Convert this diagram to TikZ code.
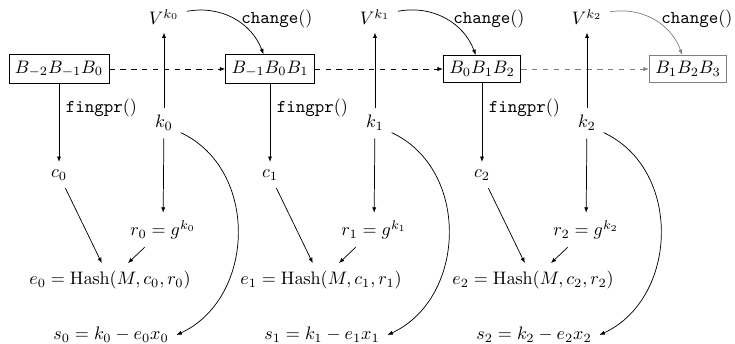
\documentclass[tikz,border=0pt]{standalone}
\usetikzlibrary{arrows.meta}
\begin{document}
\begin{tikzpicture}[x=0.553pt,y=0.553pt,
  >={Latex[length=3pt,width=2.3pt]},
  blk/.style={draw, inner sep=3.33pt},
  greyblk/.style={draw=gray, inner sep=3.33pt},
  lbl/.style={inner sep=0pt},
  mth/.style={inner sep=3.33pt, outer sep=1pt},
  conn/.style={->},
  loop/.style={->, out=-25, in=25, looseness=1.1},
  chg/.style={->, bend left=40},
  seq/.style={->, dashed}]
\useasboundingbox (0,0) rectangle (735,-343);
% blocks
\node[blk] (b0) at (59,-69) {$B_{-2}B_{-1}B_0$};
\node[blk] (b1) at (270,-69) {$B_{-1}B_0B_1$};
\node[blk] (b2) at (482,-69) {$B_0B_1B_2$};
\node[greyblk] (b3) at (688,-69) {$B_1B_2B_3$};
\draw[seq] (b0) -- (b1);
\draw[seq] (b1) -- (b2);
\draw[seq, gray] (b2) -- (b3);
\foreach \i/\X/\C in {0/59/277,1/270/489,2/482/697} {
  \node[mth] (V\i) at (\X+105,-17) {$V^{k_\i}$};
  \node[mth] (k\i) at (\X+105,-123) {$k_\i$};
  \node[mth] (c\i) at (\X,-175) {$c_\i$};
  \node[mth] (r\i) at (\X+104,-230) {$r_\i = g^{k_\i}$};
  \node[mth] (e\i) at (\X+51,-280) {$e_\i = \mathrm{Hash}(M, c_\i, r_\i)$};
  \node[mth] (s\i) at (\X+52,-335) {$s_\i = k_\i - e_\i x_\i$};
  \node[lbl] (f\i) at (\X+42.5,-108) {\texttt{fingpr}()};
  \node[lbl] (ch\i) at (\C,-19) {\texttt{change}()};
  \draw[conn] (k\i) -- (V\i);
  \draw[conn] (k\i) -- (r\i);
  \draw[conn] (b\i) -- (c\i);
  \draw[conn] (c\i) -- (e\i);
  \draw[conn] (r\i) -- (e\i);
  \draw[loop] (k\i.-30) to (s\i.east);
}
\draw[chg] (V0) to (b1);
\draw[chg] (V1) to (b2);
\draw[chg, gray] (V2) to (b3);
\end{tikzpicture}
\end{document}
